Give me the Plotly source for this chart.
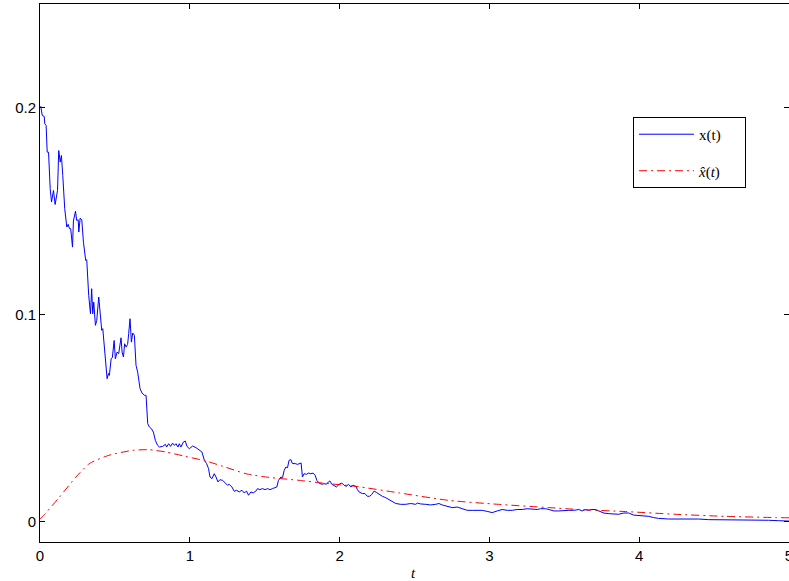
import plotly.graph_objects as go

# ---- data ----
t_x = [0.000, 0.005, 0.015, 0.028, 0.032, 0.041, 0.048, 0.057, 0.068, 0.077, 0.090,
       0.101, 0.117, 0.125, 0.135, 0.143, 0.152, 0.165, 0.179, 0.188, 0.197,
       0.205, 0.217, 0.223, 0.237, 0.245, 0.255, 0.259, 0.268, 0.279, 0.290,
       0.305, 0.312, 0.319, 0.325, 0.337, 0.345, 0.352, 0.359, 0.370, 0.379,
       0.392, 0.403, 0.412, 0.419, 0.430, 0.448, 0.457, 0.463, 0.475, 0.483,
       0.495, 0.503, 0.515, 0.525, 0.541, 0.548, 0.557, 0.565, 0.575, 0.585,
       0.592, 0.601, 0.610, 0.619, 0.630, 0.641, 0.652, 0.668, 0.681, 0.697,
       0.708, 0.719, 0.730, 0.743, 0.757, 0.770, 0.785, 0.797, 0.819, 0.837,
       0.845, 0.859, 0.872, 0.885, 0.897, 0.908, 0.921, 0.930, 0.941, 0.957,
       0.970, 0.981, 0.997, 1.019, 1.041, 1.063, 1.081, 1.097, 1.112, 1.125,
       1.135, 1.148, 1.163, 1.175, 1.188, 1.201, 1.219, 1.237, 1.252, 1.263,
       1.281, 1.297, 1.312, 1.330, 1.348, 1.363, 1.379, 1.392, 1.408, 1.423,
       1.441, 1.452, 1.468, 1.485, 1.503, 1.519, 1.535, 1.552, 1.570, 1.581,
       1.592, 1.608, 1.619, 1.630, 1.641, 1.652, 1.663, 1.675, 1.685, 1.703,
       1.719, 1.735, 1.743, 1.752, 1.763, 1.779, 1.792, 1.808, 1.823, 1.837,
       1.848, 1.863, 1.881, 1.897, 1.912, 1.925, 1.935, 1.948, 1.963, 1.979,
       1.997, 2.015, 2.030, 2.045, 2.059, 2.075, 2.090, 2.108, 2.119, 2.130,
       2.152, 2.170, 2.185, 2.201, 2.215, 2.230, 2.245, 2.263, 2.285, 2.308,
       2.330, 2.352, 2.375, 2.408, 2.441, 2.475, 2.508, 2.519, 2.541, 2.575,
       2.608, 2.641, 2.663, 2.685, 2.719, 2.752, 2.785, 2.819, 2.852, 2.885,
       2.919, 2.952, 2.985, 3.019, 3.052, 3.085, 3.119, 3.152, 3.185, 3.219,
       3.252, 3.285, 3.319, 3.341, 3.375, 3.397, 3.430, 3.463, 3.497, 3.530,
       3.563, 3.597, 3.619, 3.641, 3.663, 3.685, 3.708, 3.730, 3.763, 3.797,
       3.830, 3.863, 3.897, 3.930, 3.963, 3.997, 4.030, 4.063, 4.097, 4.130,
       4.197, 4.263, 4.330, 4.397, 4.463, 4.530, 4.597, 4.663, 4.730, 4.797,
       4.863, 4.930, 4.985, 5.000]
x_vals = [0.2000, 0.2005, 0.1961, 0.1957, 0.1921, 0.1913, 0.1784, 0.1784, 0.1607, 0.1543, 0.1599,
          0.1531, 0.1599, 0.1792, 0.1736, 0.1768, 0.1671, 0.1511, 0.1422, 0.1435, 0.1414,
          0.1414, 0.1325, 0.1451, 0.1499, 0.1454, 0.1457, 0.1398, 0.1465, 0.1457, 0.1349,
          0.1261, 0.1264, 0.1164, 0.1092, 0.1003, 0.1124, 0.1003, 0.1059, 0.0947, 0.0971,
          0.1084, 0.1003, 0.0923, 0.0931, 0.0826, 0.0689, 0.0714, 0.0705, 0.0786, 0.0791,
          0.0874, 0.0786, 0.0818, 0.0810, 0.0887, 0.0818, 0.0794, 0.0858, 0.0842, 0.0855,
          0.0907, 0.0979, 0.0866, 0.0910, 0.0899, 0.0754, 0.0721, 0.0641, 0.0620, 0.0609,
          0.0609, 0.0472, 0.0456, 0.0448, 0.0431, 0.0391, 0.0367, 0.0359, 0.0362, 0.0372,
          0.0359, 0.0375, 0.0362, 0.0378, 0.0367, 0.0375, 0.0359, 0.0375, 0.0359, 0.0383,
          0.0388, 0.0362, 0.0351, 0.0364, 0.0356, 0.0346, 0.0335, 0.0295, 0.0279, 0.0255,
          0.0214, 0.0206, 0.0230, 0.0214, 0.0190, 0.0201, 0.0198, 0.0185, 0.0174, 0.0179,
          0.0166, 0.0145, 0.0150, 0.0142, 0.0150, 0.0137, 0.0146, 0.0126, 0.0142, 0.0137,
          0.0146, 0.0158, 0.0153, 0.0158, 0.0153, 0.0158, 0.0153, 0.0158, 0.0163, 0.0166,
          0.0198, 0.0214, 0.0211, 0.0246, 0.0262, 0.0259, 0.0295, 0.0298, 0.0279, 0.0279,
          0.0275, 0.0279, 0.0282, 0.0214, 0.0230, 0.0227, 0.0233, 0.0230, 0.0233, 0.0222,
          0.0198, 0.0185, 0.0179, 0.0182, 0.0179, 0.0190, 0.0195, 0.0179, 0.0174, 0.0166,
          0.0179, 0.0185, 0.0174, 0.0169, 0.0179, 0.0166, 0.0174, 0.0169, 0.0153, 0.0142,
          0.0134, 0.0134, 0.0121, 0.0121, 0.0130, 0.0146, 0.0140, 0.0130, 0.0121, 0.0114,
          0.0105, 0.0093, 0.0086, 0.0082, 0.0082, 0.0086, 0.0082, 0.0088, 0.0084, 0.0082,
          0.0079, 0.0082, 0.0086, 0.0079, 0.0072, 0.0066, 0.0069, 0.0059, 0.0053, 0.0053,
          0.0053, 0.0053, 0.0048, 0.0042, 0.0050, 0.0057, 0.0053, 0.0053, 0.0057, 0.0057,
          0.0061, 0.0059, 0.0057, 0.0061, 0.0061, 0.0057, 0.0050, 0.0050, 0.0053, 0.0053,
          0.0053, 0.0057, 0.0050, 0.0057, 0.0053, 0.0057, 0.0057, 0.0050, 0.0040, 0.0037,
          0.0037, 0.0034, 0.0040, 0.0040, 0.0030, 0.0029, 0.0026, 0.0024, 0.0018, 0.0014,
          0.0011, 0.0011, 0.0013, 0.0011, 0.0008, 0.0008, 0.0008, 0.0006, 0.0005, 0.0005,
          0.0005, 0.0003, 0.0001, 0.0001]

t_hat = [0.000, 0.025, 0.13, 0.24, 0.33, 0.46, 0.62, 0.73, 0.84, 0.97, 1.11, 1.22,
         1.375, 1.53, 1.73, 1.885, 2.108, 2.40, 2.73, 3.06, 3.40, 3.60, 3.91, 4.24,
         4.57, 4.91, 5.00]
x_hat = [0.0010, 0.0029, 0.0117, 0.0214, 0.0279, 0.0319, 0.0343, 0.0346, 0.0335, 0.0314,
         0.0291, 0.0266, 0.0230, 0.0212, 0.0198, 0.0185, 0.0169, 0.0137, 0.0101, 0.0082,
         0.0066, 0.0057, 0.0047, 0.0034, 0.0024, 0.0018, 0.0017]

x_ticks = [0, 1, 2, 3, 4, 5]
y_ticks = [0, 0.1, 0.2]
y_tick_text = ["0", "0.1", "0.2"]
x_range = [0, 5]
y_range = [-0.01, 0.25]

NBSP = "\u00a0"
fig = go.Figure()
fig.add_trace(go.Scatter(
    x=t_x, y=x_vals, mode="lines", name="x(t)" + NBSP * 5,
    line=dict(color="#0000FF", width=1), legendgroup="a"))
fig.add_trace(go.Scatter(
    x=t_hat, y=x_hat, mode="lines", name="<i>x\u0302</i>(<i>t</i>)" + NBSP * 5,
    line=dict(color="#FF0000", width=1, dash="8px,4px,2px,4px", shape="spline", smoothing=0.6),
    legendgroup="b"))
# invisible trace to carry the mirrored right-hand tick marks
fig.add_trace(go.Scatter(x=[None], y=[None], yaxis="y2", showlegend=False,
                         hoverinfo="skip", mode="lines"))

tickfont = dict(family="Liberation Sans, Arial, sans-serif", size=15, color="black")
fig.update_layout(
    width=789, height=581,
    margin=dict(l=40, r=0, t=4, b=39),
    paper_bgcolor="white", plot_bgcolor="white",
    xaxis=dict(range=x_range, tickvals=x_ticks, ticks="inside", ticklen=5,
               tickcolor="black", showline=True, linecolor="black", linewidth=1,
               mirror="ticks", showgrid=False, zeroline=False, tickfont=tickfont,
               automargin=False, ticklabeloverflow="allow"),
    yaxis=dict(range=y_range, tickvals=y_ticks, ticktext=y_tick_text, ticks="inside",
               ticklen=5, tickcolor="black", showline=True, linecolor="black",
               linewidth=1, showgrid=False, zeroline=False, tickfont=tickfont,
               mirror=False, automargin=False),
    yaxis2=dict(range=y_range, overlaying="y", side="right", tickvals=y_ticks,
                ticks="inside", ticklen=5, tickcolor="black", showticklabels=False,
                showline=False, showgrid=False, zeroline=False, automargin=False),
    legend=dict(x=0.7917, y=0.79, xanchor="left", yanchor="top",
                bgcolor="white", bordercolor="black", borderwidth=1,
                font=dict(family="Liberation Serif, serif", size=15, color="black"),
                tracegroupgap=14, itemwidth=55),
    showlegend=True,
    annotations=[dict(text="<i>t</i>", xref="paper", yref="paper", x=0.4987, y=0,
                      xanchor="center", yanchor="middle", yshift=-31, showarrow=False,
                      font=dict(family="Liberation Serif, serif", size=15, color="black"))],
)

fig.write_html(
    "out.html",
    config={"displayModeBar": False},
    post_script="document.body.style.margin='0';document.body.style.overflow='hidden';",
)
